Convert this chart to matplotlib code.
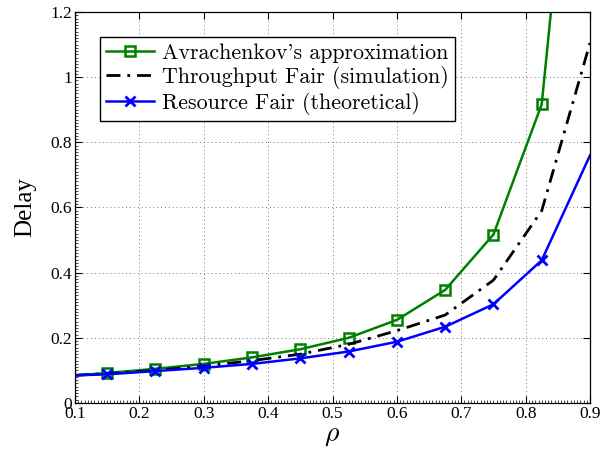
import matplotlib
matplotlib.use("Agg")
import matplotlib.pyplot as plt
from matplotlib.ticker import AutoMinorLocator

rho = [0.1, 0.15, 0.225, 0.3, 0.375, 0.45, 0.525, 0.6, 0.675, 0.75, 0.825, 0.9]
avrachenkov = [0.085, 0.092, 0.105, 0.12, 0.14, 0.165, 0.2, 0.255, 0.347, 0.517, 0.917, 2.40]
throughput_fair = [0.085, 0.09, 0.1, 0.113, 0.13, 0.15, 0.18, 0.222, 0.27, 0.377, 0.59, 1.105]
resource_fair = [0.085, 0.088, 0.098, 0.108, 0.12, 0.137, 0.158, 0.188, 0.234, 0.303, 0.438, 0.76]

labels = ["Avrachenkov's approximation", "Throughput Fair (simulation)",
          "Resource Fair (theoretical)"]
xticks = [0.1, 0.2, 0.3, 0.4, 0.5, 0.6, 0.7, 0.8, 0.9]
yticks = [0, 0.2, 0.4, 0.6, 0.8, 1.0, 1.2]
yticklabels = ["0", "0.2", "0.4", "0.6", "0.8", "1", "1.2"]

plt.rcParams['mathtext.fontset'] = 'cm'
plt.rcParams['font.family'] = ['Liberation Serif', 'DejaVu Serif']

fig = plt.figure(figsize=(6.02, 4.5), dpi=100)
ax = fig.add_axes([75/602, 47/450, 515/602, 391/450])

mk = list(range(1, 11))
ax.plot(rho, avrachenkov, color='#008000', lw=1.8, marker='s', markersize=7,
        markerfacecolor='none', markeredgewidth=1.8, markevery=mk, label=labels[0])
ax.plot(rho, throughput_fair, color='black', lw=2.0, linestyle=(0, (5, 2.5, 1, 2.5)),
        label=labels[1])
ax.plot(rho, resource_fair, color='#0000ff', lw=1.8, marker='x', markersize=7,
        markeredgewidth=2.0, markevery=mk, label=labels[2])

ax.set_xlim(0.1, 0.9)
ax.set_ylim(0, 1.2)
ax.set_xticks(xticks)
ax.set_xticklabels([f"{t:g}" for t in xticks])
ax.set_yticks(yticks)
ax.set_yticklabels(yticklabels)
ax.xaxis.set_minor_locator(AutoMinorLocator(20))
ax.yaxis.set_minor_locator(AutoMinorLocator(20))
ax.tick_params(which='major', direction='in', length=5, width=0.8, labelsize=12.5,
               top=True, right=True, pad=2)
ax.tick_params(which='minor', direction='in', length=2, width=0.5,
               top=False, right=False)
ax.grid(True, which='major', linestyle=(0, (1, 3)), color='#777777', lw=0.7)
for s in ax.spines.values():
    s.set_linewidth(0.9)

ax.set_xlabel(r'$\rho$', fontsize=20, labelpad=1)
ax.set_ylabel('Delay', fontsize=18, labelpad=10)

leg = ax.legend(loc='upper left', bbox_to_anchor=(0.048, 0.936), frameon=True,
                fancybox=False, edgecolor='black', framealpha=1,
                prop={'family': 'cmr10', 'size': 15.8}, handlelength=2.2,
                handletextpad=0.35, borderpad=0.28, labelspacing=0.14,
                borderaxespad=0)
leg.get_frame().set_linewidth(1.0)

fig.savefig("out.png", dpi=100)
